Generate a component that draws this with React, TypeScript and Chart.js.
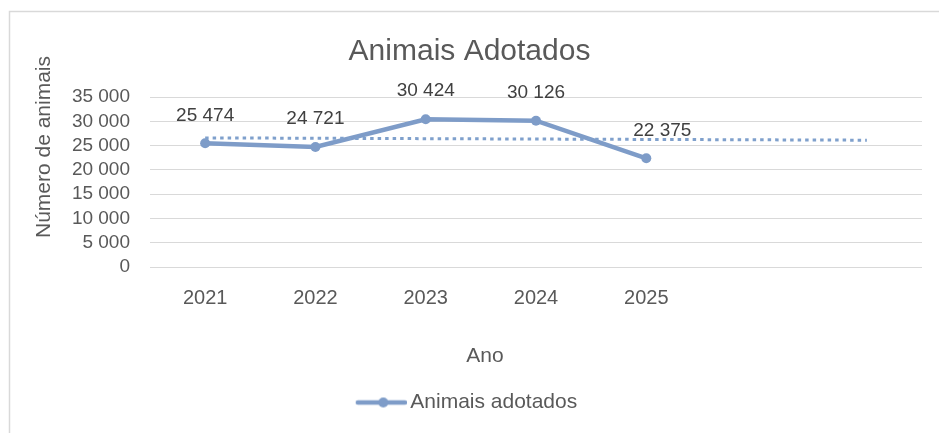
import React, { useEffect, useRef } from 'react';
import { Chart, registerables } from 'chart.js';

Chart.register(...registerables);

const categories = ['2021', '2022', '2023', '2024', '2025', '', ''];
const adopted = [25474, 24721, 30424, 30126, 22375];
const trendValues = [26583, null, null, null, null, null, 26107];
const yTickValues = [0, 5000, 10000, 15000, 20000, 25000, 30000, 35000];
const chartTitle = 'Animais Adotados';
const seriesName = 'Animais adotados';
const yAxisTitle = 'Número de animais';
const xAxisTitle = 'Ano';

const FONT = '"Liberation Sans", Arial, sans-serif';
const LINE_COLOR = '#7e9cc8';
const TEXT_COLOR = '#595959';
const LABEL_COLOR = '#404040';
const GRID_COLOR = '#d9d9d9';

const fmt = (v: number) => String(v).replace(/\B(?=(\d{3})+(?!\d))/g, ' ');

function makeLegendMarker(): HTMLCanvasElement {
  const c = document.createElement('canvas');
  c.width = 52;
  c.height = 12;
  const ctx = c.getContext('2d')!;
  ctx.strokeStyle = LINE_COLOR;
  ctx.lineWidth = 4.5;
  ctx.lineCap = 'round';
  ctx.beginPath();
  ctx.moveTo(3, 6);
  ctx.lineTo(50, 6);
  ctx.stroke();
  ctx.fillStyle = LINE_COLOR;
  ctx.beginPath();
  ctx.arc(28.5, 6, 5, 0, Math.PI * 2);
  ctx.fill();
  return c;
}

export default function App() {
  const ref = useRef<HTMLCanvasElement | null>(null);

  useEffect(() => {
    document.body.style.margin = '0';
    const canvas = ref.current;
    if (!canvas) return;
    const marker = makeLegendMarker();

    const framePlugin = {
      id: 'frame',
      beforeDraw(chart: any) {
        const { ctx, width, height } = chart;
        ctx.save();
        ctx.fillStyle = '#ffffff';
        ctx.fillRect(0, 0, width, height);
        ctx.strokeStyle = GRID_COLOR;
        ctx.lineWidth = 1.5;
        ctx.beginPath();
        ctx.moveTo(9.5, height);
        ctx.lineTo(9.5, 11.5);
        ctx.lineTo(width, 11.5);
        ctx.stroke();
        ctx.restore();
      },
      afterDraw(chart: any) {
        const { ctx } = chart;
        ctx.save();
        ctx.fillStyle = TEXT_COLOR;
        ctx.font = `21px ${FONT}`;
        ctx.textAlign = 'center';
        ctx.textBaseline = 'middle';
        ctx.fillText(xAxisTitle, 485, 356);
        ctx.translate(44, 147);
        ctx.rotate(-Math.PI / 2);
        ctx.fillText(yAxisTitle, 0, 0);
        ctx.restore();
      },
    };

    const dataLabelPlugin = {
      id: 'dataLabels',
      afterDatasetsDraw(chart: any) {
        const { ctx } = chart;
        const meta = chart.getDatasetMeta(0);
        ctx.save();
        ctx.fillStyle = LABEL_COLOR;
        ctx.font = `19px ${FONT}`;
        ctx.textAlign = 'center';
        ctx.textBaseline = 'middle';
        meta.data.forEach((pt: any, i: number) => {
          const dx = i === adopted.length - 1 ? 16 : 0;
          ctx.fillText(fmt(adopted[i]), pt.x + dx, pt.y - 28);
        });
        ctx.restore();
      },
    };

    const chart = new Chart(canvas, {
      type: 'line',
      data: {
        labels: categories,
        datasets: [
          {
            label: seriesName,
            data: adopted,
            borderColor: LINE_COLOR,
            backgroundColor: LINE_COLOR,
            borderWidth: 4.5,
            pointRadius: 5,
            pointBackgroundColor: LINE_COLOR,
            pointBorderColor: LINE_COLOR,
            pointBorderWidth: 0,
            tension: 0,
            order: 1,
          },
          {
            label: 'Linear (Animais adotados)',
            data: trendValues,
            borderColor: '#7fa0cc',
            borderWidth: 3,
            borderDash: [3.5, 4],
            pointRadius: 0,
            spanGaps: true,
            tension: 0,
            order: 0,
          },
        ],
      },
      options: {
        animation: false,
        responsive: false,
        layout: { padding: { left: 0, right: 0, top: 0, bottom: 10 } },
        plugins: {
          title: {
            display: true,
            text: chartTitle,
            color: TEXT_COLOR,
            font: { family: FONT, size: 30, weight: 'normal' },
            padding: { top: 34, bottom: 27 },
          },
          legend: {
            display: true,
            position: 'bottom',
            labels: {
              color: TEXT_COLOR,
              font: { family: FONT, size: 21 },
              padding: 10,
              usePointStyle: true,
              pointStyleWidth: 38,
              generateLabels: () => [
                {
                  text: seriesName,
                  pointStyle: marker as any,
                  fillStyle: LINE_COLOR,
                  strokeStyle: LINE_COLOR,
                  lineWidth: 0,
                  hidden: false,
                  datasetIndex: 0,
                  fontColor: TEXT_COLOR,
                } as any,
              ],
            },
          },
          tooltip: { enabled: false },
        },
        scales: {
          x: {
            type: 'category',
            offset: true,
            grid: { display: false, drawTicks: false },
            border: { display: false },
            ticks: {
              color: TEXT_COLOR,
              font: { family: FONT, size: 20 },
              padding: 19,
              maxRotation: 0,
              autoSkip: false,
            },
            afterFit: (scale: any) => {
              scale.height = 115;
            },
          },
          y: {
            min: 0,
            max: 35000,
            grid: { color: GRID_COLOR, lineWidth: 1, drawTicks: false },
            border: { display: false },
            ticks: {
              color: TEXT_COLOR,
              font: { family: FONT, size: 19 },
              padding: 20,
              autoSkip: false,
              callback: (v: any) => fmt(Number(v)),
            },
            afterBuildTicks: (scale: any) => {
              scale.ticks = yTickValues.map((v) => ({ value: v }));
            },
            afterFit: (scale: any) => {
              scale.width = 150;
            },
          },
          yRight: {
            position: 'right',
            min: 0,
            max: 35000,
            grid: { display: false, drawTicks: false },
            border: { display: false },
            ticks: { display: false },
            afterFit: (scale: any) => {
              scale.width = 17;
            },
          },
        },
      },
      plugins: [framePlugin, dataLabelPlugin],
    });

    return () => chart.destroy();
  }, []);

  return (
    <div style={{ width: 939, height: 433 }}>
      <canvas ref={ref} width={939} height={433} style={{ display: 'block' }} />
    </div>
  );
}
